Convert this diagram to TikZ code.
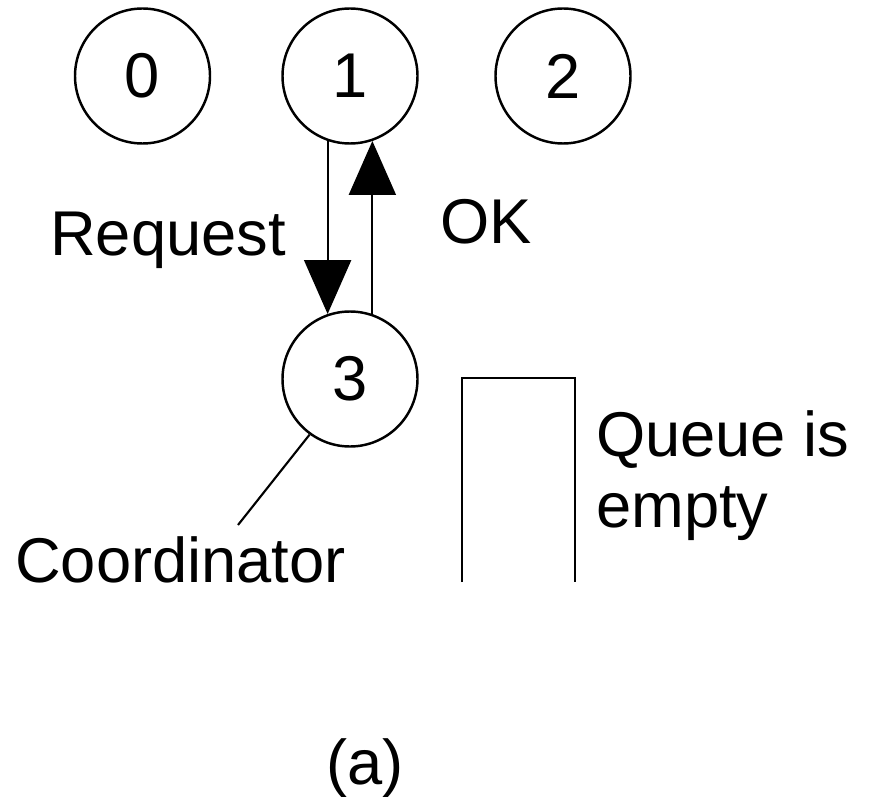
\documentclass[tikz,border=0pt]{standalone}
\usepackage{fontspec}
\setmainfont{Liberation Sans}
\usetikzlibrary{arrows.meta}

\begin{document}
\begin{tikzpicture}[
    proc/.style={circle, draw, line width=1.4pt, inner sep=0pt, minimum size=2.7cm},
    msg/.style={line width=1.2pt, -{Triangle[length=1.08cm, width=0.94cm]}},
    every node/.style={font=\fontsize{36}{40}\selectfont}]
      \useasboundingbox (0, 0) rectangle (17.84, -15.94);
      % processes
      \node[proc] (p0) at (2.85, -1.52) {0};
      \node[proc] (p1) at (7.0, -1.52) {1};
      \node[proc] (p2) at (11.26, -1.52) {2};
      \node[proc] (p3) at (7.0, -7.58) {3};
      % request and reply
      \draw[msg] (p1.251) -- (p3.109);
      \draw[msg] (p3.71) -- (p1.289);
      \node[anchor=base west] (req) at (0.88, -5.10) {Request};
      \node[anchor=base west] (ok) at (8.68, -4.86) {OK};
      % coordinator label
      \coordinate (lbl) at (4.76, -10.5);
      \draw[line width=1.2pt] (p3.234) -- (lbl);
      \node[anchor=base west] (coord) at (0.18, -11.64) {Coordinator};
      % queue
      \draw[line width=1.2pt] (9.24, -11.64) |- (11.5, -7.56) -- (11.5, -11.64);
      \node[anchor=base west, align=left] (queue) at (11.80, -10.54) {Queue is\\empty};
      \node[anchor=base] (cap) at (7.30, -15.68) {(a)};
\end{tikzpicture}
\end{document}
